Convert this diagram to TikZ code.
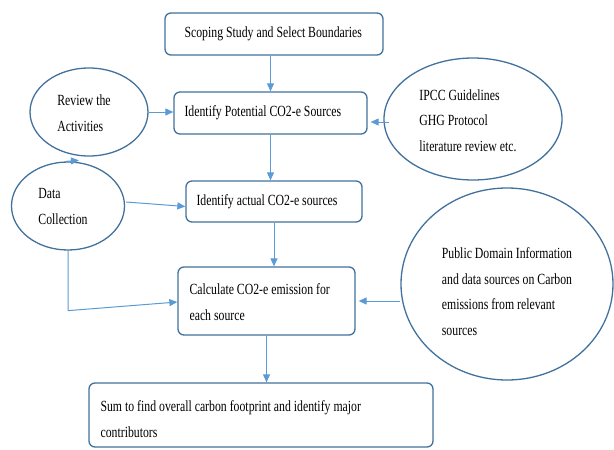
\documentclass[tikz,border=0pt]{standalone}
\usepackage{fontspec}
\setmainfont[FakeStretch=0.76]{Liberation Serif}
\usetikzlibrary{arrows.meta,calc,shapes.geometric}
\definecolor{boxblue}{HTML}{41719C}
\definecolor{arrblue}{HTML}{5B9BD5}
\tikzset{
  stepbox/.style={draw=boxblue, line width=1.3pt, rounded corners=6pt, inner sep=0pt, fill=white},
  oval/.style={draw=boxblue, line width=1.3pt, ellipse, inner sep=0pt, font=\fontsize{15.5}{25.5}\selectfont},
  txt/.style={anchor=west, inner sep=0pt, align=left, font=\fontsize{15.5}{25.5}\selectfont},
  conn/.style={draw=arrblue, line width=1pt, -{Triangle[length=8pt,width=7pt]}},
}
\begin{document}
\begin{tikzpicture}[x=1pt,y=-1pt]
\useasboundingbox (0,0) rectangle (614,450);
% boxes
\node[stepbox, minimum width=218pt, minimum height=42pt] (b1) at (274,34) {};
\node[stepbox, minimum width=193pt, minimum height=42pt] (b2) at (270.5,113) {};
\node[stepbox, minimum width=176pt, minimum height=41pt] (b3) at (274,201.5) {};
\node[stepbox, minimum width=177pt, minimum height=68pt] (b4) at (266.5,301) {};
\node[stepbox, minimum width=344pt, minimum height=64pt] (b5) at (261,415) {};
% box texts
\node[txt] (t1) at ($(b1.west)+(20,0)$) {Scoping Study and Select Boundaries};
\node[txt] (t2) at ($(b2.west)+(11,0)$) {Identify Potential CO2-e Sources};
\node[txt] (t3) at ($(b3.west)+(11,0)$) {Identify actual CO2-e sources};
\node[txt] (t4) at ($(b4.west)+(12,1)$) {Calculate CO2-e emission for\\each source};
\node[txt] (t5) at ($(b5.west)+(12,4)$) {Sum to find overall carbon footprint and identify major\\contributors};
% ellipses
\node[oval, minimum width=118pt, minimum height=88pt] (rev) at (89,112)
  {\begin{tabular}{@{}l@{\hspace{10pt}}}\rule{0pt}{21pt}Review the\\Activities\end{tabular}};
\node[oval, minimum width=113pt, minimum height=88pt] (data) at (68,206)
  {\begin{tabular}{@{}l@{\hspace{10pt}}}\rule{0pt}{19pt}Data\\Collection\end{tabular}};
\node[oval, minimum width=178pt, minimum height=122pt] (ipcc) at (473,119)
  {\begin{tabular}{@{}l@{\hspace{10pt}}}\rule{0pt}{21pt}IPCC Guidelines\\GHG Protocol\\literature review etc.\end{tabular}};
\node[oval, minimum width=212pt, minimum height=192pt] (pub) at (507,284)
  {\begin{tabular}{@{}l@{}}\rule{0pt}{34pt}Public Domain Information\\and data sources on Carbon\\emissions from relevant\\sources\end{tabular}};
% connectors
\draw[conn] (b2.north |- b1.south) -- (b2.north);
\draw[conn] (rev.east) -- (rev.east -| b2.west);
\draw[conn, shorten >=3pt] ($(ipcc.west)+(6,3)$) -- ($(ipcc.west -| b2.east)+(0,3)$);
\draw[conn] (b2.south) -- (b2.south |- b3.north);
\draw[conn] ($(data.east)+(1,-4)$) -- ($(b3.west)+(0,5)$);
\draw[conn] (b3.south) -- (b3.south |- b4.north);
\draw[conn] (data.south) -- ++(0,60) -- ($(b4.west)+(0,1)$);
\draw[conn, shorten >=3pt] (pub.west |- b4.east) -- (b4.east);
\draw[conn] (b4.south) -- (b4.south |- b5.north);
\draw[conn] ($(data.north)+(-2,0)$) -- ($(data.north)+(11,-1)$);
\end{tikzpicture}
\end{document}
